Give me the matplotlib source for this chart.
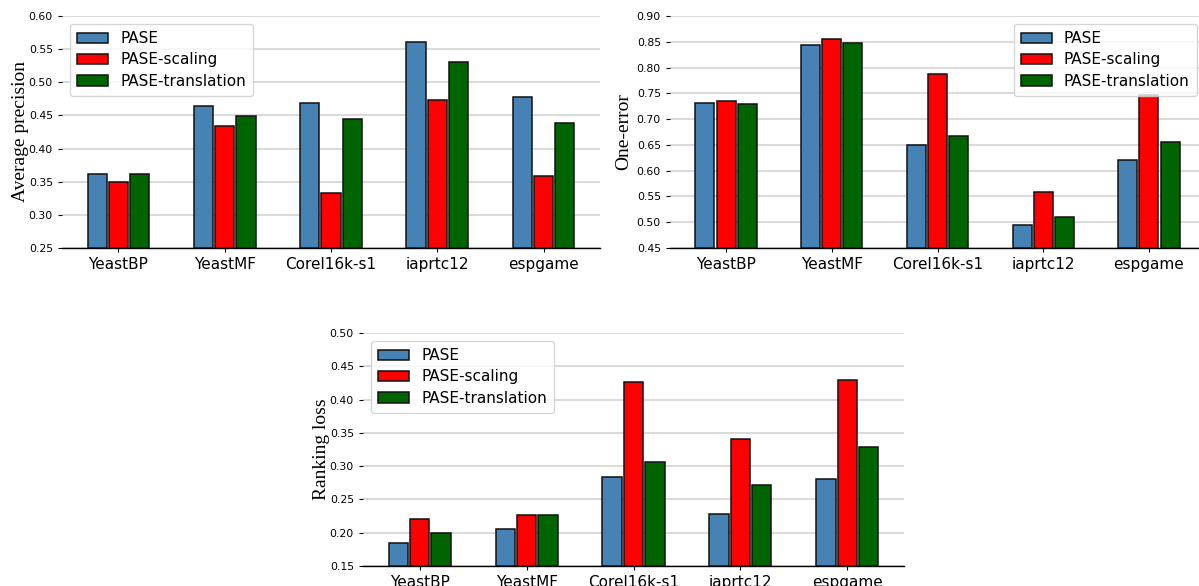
import numpy as np
import matplotlib
matplotlib.use("Agg")
import matplotlib.pyplot as plt

categories = ["YeastBP", "YeastMF", "Corel16k-s1", "iaprtc12", "espgame"]
series_names = ["PASE", "PASE-scaling", "PASE-translation"]

ap_pase = [0.362, 0.464, 0.469, 0.561, 0.478]
ap_scaling = [0.350, 0.434, 0.333, 0.474, 0.358]
ap_translation = [0.361, 0.449, 0.445, 0.530, 0.439]

oe_pase = [0.732, 0.843, 0.649, 0.494, 0.621]
oe_scaling = [0.736, 0.856, 0.788, 0.559, 0.746]
oe_translation = [0.729, 0.848, 0.667, 0.510, 0.656]

rl_pase = [0.184, 0.206, 0.284, 0.228, 0.280]
rl_scaling = [0.221, 0.226, 0.427, 0.341, 0.429]
rl_translation = [0.200, 0.226, 0.306, 0.271, 0.329]

colors = ["#4682B4", "#FF0000", "#006400"]

W, H = 1199, 586
fig = plt.figure(figsize=(W / 100, H / 100), dpi=100)


def make_axes(px_left, px_top, px_right, px_bottom):
    return fig.add_axes([px_left / W, 1 - px_bottom / H,
                         (px_right - px_left) / W, (px_bottom - px_top) / H])


def draw(ax, series, ylabel, ylim, yticks, legend_loc, label_x):
    x = np.arange(len(categories))
    width = 0.18
    offsets = [-0.2, 0.0, 0.2]
    for vals, name, c, off in zip(series, series_names, colors, offsets):
        ax.bar(x + off, np.array(vals) - ylim[0], width, bottom=ylim[0],
               color=c, edgecolor="#111111", linewidth=1.1, label=name, zorder=3)
    ax.set_ylim(*ylim)
    ax.set_xlim(-0.53, 4.53)
    ax.set_yticks(yticks)
    ax.set_yticklabels([f"{t:.2f}" for t in yticks], fontsize=7.8)
    ax.set_xticks(x)
    ax.set_xticklabels(categories, fontsize=11)
    ax.set_ylabel(ylabel, family="Liberation Serif", fontsize=14)
    ax.yaxis.set_label_coords(label_x, 0.5)
    ax.yaxis.grid(True, color="#cfcfcf", linewidth=1.1, zorder=0)
    ax.set_axisbelow(True)
    for s in ["top", "right", "left"]:
        ax.spines[s].set_visible(False)
    ax.spines["bottom"].set_linewidth(1.0)
    ax.tick_params(axis="y", length=3, width=0.8)
    ax.tick_params(axis="x", length=3, width=0.8)
    ax.legend(loc=legend_loc, fontsize=11, frameon=True, handlelength=2.0,
              borderpad=0.5, labelspacing=0.4)


ax1 = make_axes(62, 16, 600, 248)
draw(ax1, [ap_pase, ap_scaling, ap_translation], "Average precision",
     (0.25, 0.60), np.arange(0.25, 0.601, 0.05), "upper left", -0.061)

ax2 = make_axes(670, 16, 1205, 248)
draw(ax2, [oe_pase, oe_scaling, oe_translation], "One-error",
     (0.45, 0.90), np.arange(0.45, 0.901, 0.05), "upper right", -0.071)

ax3 = make_axes(363, 333, 904, 566)
draw(ax3, [rl_pase, rl_scaling, rl_translation], "Ranking loss",
     (0.15, 0.50), np.arange(0.15, 0.501, 0.05), "upper left", -0.061)

fig.savefig("out.png", dpi=100)
